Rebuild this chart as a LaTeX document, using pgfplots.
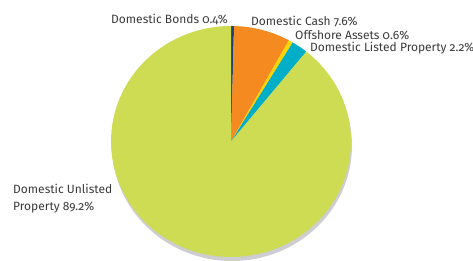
\documentclass[border=0pt]{standalone}
\usepackage{pgfplots}
\usepackage{pgfplotstable}
\pgfplotsset{compat=1.18}
\usepackage{fontspec}
\setmainfont{Fira Sans}[Numbers=OldStyle]
\definecolor{cBonds}{HTML}{1C3F7A}
\definecolor{cCash}{HTML}{F58A20}
\definecolor{cOff}{HTML}{FFD400}
\definecolor{cListed}{HTML}{00AEC7}
\definecolor{cUnlisted}{HTML}{CDDC53}
\definecolor{cShadow}{HTML}{CDCDD2}
\definecolor{txt}{HTML}{3A3A3A}
\colorlet{slice0}{cBonds}
\colorlet{slice1}{cCash}
\colorlet{slice2}{cOff}
\colorlet{slice3}{cListed}
\colorlet{slice4}{cUnlisted}
\pgfplotstableread{
label value
Bonds 0.4
Cash 7.6
Offshore 0.6
Listed 2.2
Unlisted 89.2
}\piedata
\begin{document}
\begin{tikzpicture}
\begin{axis}[
  width=473pt, height=261pt, scale only axis,
  xmin=0, xmax=473, ymin=0, ymax=261,
  hide axis,
]
\draw[draw=none] (axis cs:0,0) rectangle (axis cs:473,261);
\pgfplotsextra{
  \fill[cShadow] (axis cs:232,115.5) ellipse [x radius=120pt, y radius=115.5pt];
  \xdef\startang{90}
  \foreach \i in {0,...,4}{
    \pgfplotstablegetelem{\i}{value}\of\piedata
    \pgfmathsetmacro\endang{\startang - 3.6*\pgfplotsretval}
    \fill[slice\i] (axis cs:231,119.5) -- ++(\startang:120pt and 115.5pt)
      arc[start angle=\startang, end angle=\endang, x radius=120pt, y radius=115.5pt] -- cycle;
    \xdef\startang{\endang}
  }
}
\begin{scope}[every node/.style={text=txt, font=\fontsize{12}{17}\selectfont, inner sep=0pt}]
\node[anchor=base west] at (axis cs:111,237) {Domestic Bonds 0.4\%};
\node[anchor=base west] at (axis cs:251,235.3) {Domestic Cash 7.6\%};
\node[anchor=base west] at (axis cs:295,221) {Offshore Assets 0.6\%};
\node[anchor=base west] at (axis cs:310,209.3) {Domestic Listed Property 2.2\%};
\node[anchor=base west] at (axis cs:13,67) {Domestic Unlisted};
\node[anchor=base west] at (axis cs:13,50.3) {Property 89.2\%};
\end{scope}
\end{axis}
\end{tikzpicture}
\end{document}
